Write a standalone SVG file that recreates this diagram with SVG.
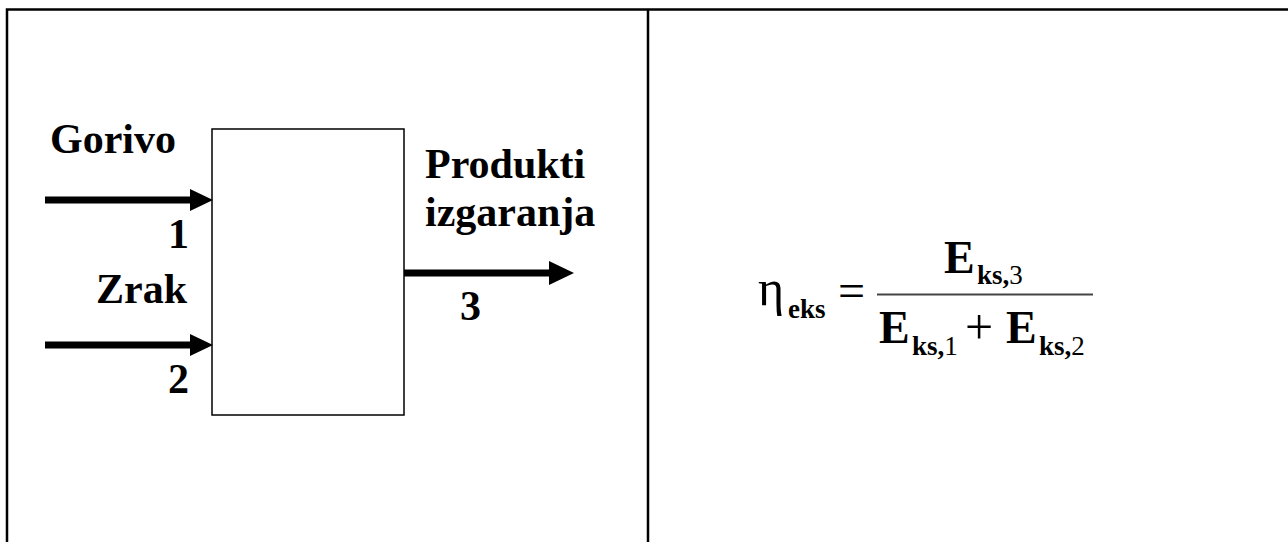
<svg xmlns="http://www.w3.org/2000/svg" width="1288" height="542" viewBox="0 0 1288 542">
<style>
.lbl{font-family:'Liberation Serif','Times New Roman',serif;font-weight:bold;font-size:42px;fill:#000}
.m{font-family:'Liberation Serif','Times New Roman',serif;fill:#000}
.b{font-weight:bold}
.frame{stroke:#000;stroke-width:2.5;fill:none}
</style>
<rect width="1288" height="542" fill="#fff"/>
<g id="table">
<path class="frame" d="M7 542 V9.5 H1288 M648 9.5 V542"/>
</g>
<g id="block">
<rect x="212" y="129" width="192" height="286" fill="none" stroke="#000" stroke-width="1.5"/>
</g>
<g id="connectors" fill="#000">
<path d="M45 196.5 H190 V189 L213 200 L190 211 V203.5 H45 Z"/>
<path d="M45 341.5 H190 V334 L213 345 L190 356 V348.5 H45 Z"/>
<path d="M404 269.5 H549 V261 L574 273 L549 285 V276.5 H404 Z"/>
</g>
<g id="labels">
<text class="lbl" x="50" y="153">Gorivo</text>
<text class="lbl" x="189" y="248" text-anchor="end">1</text>
<text class="lbl" x="96" y="303">Zrak</text>
<text class="lbl" x="189" y="393" text-anchor="end">2</text>
<text class="lbl" x="425" y="178">Produkti</text>
<text class="lbl" x="425" y="226">izgaranja</text>
<text class="lbl" x="460" y="320">3</text>
</g>
<g id="formula">
<text class="m" x="758" y="305" font-size="50">η</text>
<text class="m b" x="788" y="318" font-size="27">eks</text>
<text class="m" x="838" y="307" font-size="48">=</text>
<line x1="877" y1="294.5" x2="1093" y2="294.5" stroke="#444" stroke-width="2"/>
<text class="m b" x="944" y="273" font-size="46">E</text>
<text class="m b" x="977" y="284" font-size="27">ks,<tspan font-weight="normal">3</tspan></text>
<text class="m b" x="879" y="343" font-size="46">E</text>
<text class="m b" x="912" y="355" font-size="27">ks,<tspan font-weight="normal">1</tspan></text>
<text class="m" x="965" y="344" font-size="50">+</text>
<text class="m b" x="1006" y="343" font-size="46">E</text>
<text class="m b" x="1039" y="355" font-size="27">ks,<tspan font-weight="normal">2</tspan></text>
</g>
</svg>
